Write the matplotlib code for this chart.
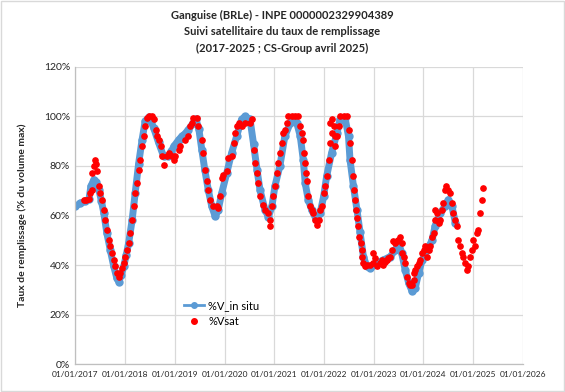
"""
Ganguise (BRLe) : taux de remplissage in situ vs satellite, 2017-2025.
"""
import numpy as np
import pandas as pd
import matplotlib
matplotlib.use("Agg")
import matplotlib.pyplot as plt
import matplotlib.dates as mdates
from matplotlib.ticker import PercentFormatter, MultipleLocator
from matplotlib.lines import Line2D
from matplotlib.patches import Rectangle

plt.rcParams["font.family"] = ["Lato", "DejaVu Sans"]

# --- in situ volume (% of max) (decimal years) ---
insitu_years = [
    2017.00, 2017.10, 2017.20, 2017.27, 2017.31, 2017.37, 2017.42, 2017.47, 2017.52, 2017.57,
    2017.63, 2017.70, 2017.77, 2017.83, 2017.87, 2017.92, 2017.97, 2018.02, 2018.07, 2018.14,
    2018.20, 2018.27, 2018.34, 2018.40, 2018.47, 2018.52, 2018.57, 2018.67, 2018.77, 2018.87,
    2018.93, 2018.98, 2019.08, 2019.14, 2019.20, 2019.27, 2019.37, 2019.42, 2019.48, 2019.54,
    2019.60, 2019.67, 2019.74, 2019.81, 2019.87, 2019.94, 2020.04, 2020.14, 2020.24, 2020.34,
    2020.41, 2020.51, 2020.58, 2020.65, 2020.71, 2020.81, 2020.88, 2020.95, 2021.01, 2021.11,
    2021.21, 2021.32, 2021.38, 2021.45, 2021.52, 2021.58, 2021.62, 2021.68, 2021.75, 2021.85,
    2021.92, 2021.99, 2022.05, 2022.15, 2022.26, 2022.32, 2022.42, 2022.49, 2022.52, 2022.59,
    2022.66, 2022.72, 2022.79, 2022.86, 2022.92, 2022.99, 2023.06, 2023.19, 2023.33, 2023.43,
    2023.50, 2023.56, 2023.63, 2023.70, 2023.77, 2023.83, 2023.90, 2023.97, 2024.07, 2024.17,
    2024.23, 2024.33, 2024.43, 2024.50, 2024.57, 2024.64,
]
insitu_pct = [
    63.7, 65.0, 65.7, 66.5, 71.8, 74.5, 73.5, 70.4, 66.0, 61.0,
    53.0, 46.0, 39.4, 34.8, 33.3, 36.0, 39.4, 44.0, 49.0, 58.3,
    69.0, 81.0, 90.7, 98.0, 99.6, 98.0, 95.5, 89.5, 84.0, 84.0,
    86.0, 88.0, 90.7, 92.0, 93.0, 94.7, 97.4, 99.0, 95.0, 86.6,
    78.5, 70.4, 63.7, 59.6, 62.3, 69.0, 77.0, 85.3, 92.0, 98.8,
    100.0, 98.8, 89.0, 78.5, 70.4, 62.3, 59.5, 63.7, 71.8, 80.0,
    92.0, 97.4, 98.8, 97.4, 92.0, 82.6, 73.0, 66.4, 62.3, 58.0,
    61.0, 67.7, 75.8, 85.3, 93.4, 98.8, 99.5, 92.0, 82.6, 71.8,
    62.3, 53.5, 43.4, 39.4, 38.7, 40.0, 40.8, 42.0, 43.4, 46.0,
    48.9, 44.8, 38.0, 32.7, 29.3, 30.6, 36.7, 42.0, 46.0, 50.0,
    55.6, 61.0, 63.7, 66.4, 63.7, 57.0,
]

# --- satellite estimate (% of max) ---
sat_years = [
    2017.17, 2017.21, 2017.27, 2017.30, 2017.33, 2017.34, 2017.37, 2017.40, 2017.41, 2017.43,
    2017.47, 2017.50, 2017.53, 2017.57, 2017.60, 2017.63, 2017.67, 2017.70, 2017.73, 2017.77,
    2017.80, 2017.83, 2017.87, 2017.90, 2017.94, 2017.97, 2018.00, 2018.04, 2018.07, 2018.10,
    2018.14, 2018.17, 2018.20, 2018.24, 2018.27, 2018.30, 2018.34, 2018.37, 2018.40, 2018.44,
    2018.48, 2018.54, 2018.57, 2018.61, 2018.64, 2018.67, 2018.71, 2018.74, 2018.77, 2018.84,
    2018.88, 2018.94, 2018.98, 2019.01, 2019.08, 2019.10, 2019.20, 2019.27, 2019.30, 2019.34,
    2019.37, 2019.44, 2019.47, 2019.54, 2019.57, 2019.61, 2019.64, 2019.67, 2019.71, 2019.77,
    2019.84, 2019.87, 2019.91, 2019.94, 2019.97, 2020.04, 2020.07, 2020.14, 2020.18, 2020.21,
    2020.24, 2020.28, 2020.34, 2020.41, 2020.51, 2020.55, 2020.58, 2020.61, 2020.65, 2020.68,
    2020.71, 2020.78, 2020.81, 2020.88, 2020.91, 2020.92, 2020.95, 2020.98, 2021.01, 2021.05,
    2021.08, 2021.11, 2021.15, 2021.18, 2021.21, 2021.25, 2021.28, 2021.35, 2021.42, 2021.48,
    2021.52, 2021.55, 2021.58, 2021.59, 2021.62, 2021.63, 2021.65, 2021.68, 2021.72, 2021.75,
    2021.78, 2021.82, 2021.85, 2021.89, 2021.92, 2021.95, 2021.99, 2022.02, 2022.05, 2022.09,
    2022.12, 2022.15, 2022.12, 2022.16, 2022.19, 2022.22, 2022.22, 2022.26, 2022.29, 2022.32,
    2022.39, 2022.46, 2022.49, 2022.52, 2022.56, 2022.59, 2022.60, 2022.62, 2022.64, 2022.67,
    2022.69, 2022.71, 2022.74, 2022.76, 2022.77, 2022.79, 2022.83, 2022.86, 2022.92, 2022.99,
    2022.99, 2023.02, 2023.06, 2023.12, 2023.16, 2023.19, 2023.22, 2023.26, 2023.29, 2023.33,
    2023.36, 2023.39, 2023.43, 2023.46, 2023.49, 2023.52, 2023.56, 2023.56, 2023.60, 2023.63,
    2023.66, 2023.70, 2023.73, 2023.76, 2023.80, 2023.80, 2023.83, 2023.87, 2023.90, 2023.93,
    2023.96, 2024.00, 2024.03, 2024.07, 2024.10, 2024.13, 2024.17, 2024.20, 2024.23, 2024.23,
    2024.27, 2024.30, 2024.33, 2024.37, 2024.40, 2024.43, 2024.46, 2024.50, 2024.53, 2024.57,
    2024.60, 2024.63, 2024.67, 2024.70, 2024.73, 2024.77, 2024.80, 2024.83, 2024.87, 2024.90,
    2024.93, 2024.97, 2025.00, 2025.04, 2025.07, 2025.10, 2025.14, 2025.17, 2025.19,
]
sat_pct = [
    66.4, 66.4, 66.7, 69.1, 70.4, 77.0, 79.9, 82.6, 81.0, 77.9,
    71.8, 69.1, 66.4, 62.3, 58.3, 54.3, 50.2, 47.5, 44.8, 42.1,
    39.4, 36.7, 35.3, 36.7, 38.7, 40.8, 43.4, 46.2, 48.9, 52.9,
    58.3, 63.7, 69.1, 73.1, 78.5, 82.6, 88.0, 92.0, 96.1, 99.5,
    100.0, 100.0, 98.8, 94.7, 92.0, 90.7, 88.0, 83.9, 80.6, 83.9,
    85.3, 83.9, 82.6, 83.9, 86.6, 88.0, 90.7, 92.0, 96.1, 97.4,
    99.5, 99.5, 96.1, 90.7, 85.3, 78.5, 73.8, 70.4, 66.4, 63.7,
    63.7, 63.0, 67.7, 75.2, 76.5, 77.9, 83.3, 83.9, 89.4, 93.4,
    96.1, 97.4, 96.1, 97.4, 97.4, 98.8, 86.6, 81.3, 77.2, 73.2,
    67.7, 64.4, 62.3, 61.0, 58.3, 55.6, 63.7, 67.7, 71.8, 77.2,
    81.3, 85.3, 89.4, 93.4, 94.7, 97.4, 100.0, 100.0, 100.0, 100.0,
    96.1, 93.4, 90.7, 85.3, 81.3, 77.2, 73.8, 67.7, 63.7, 62.3,
    61.0, 58.3, 56.3, 58.3, 62.3, 63.7, 69.1, 71.8, 75.8, 82.6,
    89.4, 93.4, 97.4, 98.8, 96.1, 92.0, 88.0, 92.0, 96.1, 100.0,
    100.0, 100.0, 94.7, 89.4, 82.6, 75.8, 70.4, 66.4, 62.3, 59.0,
    55.6, 51.5, 48.9, 46.2, 43.4, 40.8, 39.4, 40.1, 40.1, 40.8,
    44.8, 42.8, 39.4, 40.8, 42.1, 40.1, 41.4, 42.1, 42.8, 43.4,
    46.2, 49.5, 48.9, 49.5, 50.2, 51.5, 48.9, 44.8, 43.4, 40.8,
    35.3, 32.7, 32.0, 32.0, 34.0, 36.7, 38.1, 39.4, 40.8, 42.1,
    44.8, 46.2, 47.5, 43.4, 46.2, 47.5, 51.5, 52.9, 58.3, 62.3,
    61.0, 57.0, 58.3, 62.3, 65.0, 70.4, 71.8, 70.4, 69.1, 65.0,
    61.0, 58.3, 55.6, 50.2, 47.5, 44.8, 43.4, 40.8, 38.1, 39.4,
    43.4, 46.2, 50.2, 47.5, 52.9, 54.3, 61.0, 66.4, 71.1,
]

TITLE = ("Ganguise (BRLe) - INPE 0000002329904389\n"
         "Suivi satellitaire du taux de remplissage\n"
         "(2017-2025 ; CS-Group avril 2025)")


def to_dates(years):
    years = np.asarray(years)
    return pd.Timestamp("2017-01-01") + pd.to_timedelta((years - 2017) * 365.25, unit="D")


insitu_dates = to_dates(insitu_years)
sat_dates = to_dates(sat_years)

fig = plt.figure(figsize=(5.65, 3.92), dpi=100)
ax = fig.add_axes([0.1336, 0.0714, 0.7921, 0.7577])

ax.plot(insitu_dates, insitu_pct, color="#5b9bd5", lw=5, marker="o", ms=5,
        solid_capstyle="round", zorder=2)
ax.plot(sat_dates, sat_pct, ls="none", marker="o", ms=3.8, color="#ff0000",
        mec="#ff0000", zorder=3)

ax.set_xlim(pd.Timestamp("2017-01-01"), pd.Timestamp("2026-01-01"))
ax.set_ylim(0, 120)
ax.yaxis.set_major_locator(MultipleLocator(20))
ax.yaxis.set_major_formatter(PercentFormatter(100, decimals=0))
ax.xaxis.set_major_locator(mdates.YearLocator())
ax.xaxis.set_major_formatter(mdates.DateFormatter("%d/%m/%Y"))

ax.grid(True, color="#d9d9d9", lw=0.9)
ax.set_axisbelow(True)
for side in ["top", "right"]:
    ax.spines[side].set_visible(False)
for side in ["left", "bottom"]:
    ax.spines[side].set_color("#bfbfbf")
    ax.spines[side].set_linewidth(0.9)
ax.tick_params(axis="both", length=0, colors="#262626")
ax.tick_params(axis="y", labelsize=7.5, pad=4)
ax.tick_params(axis="x", labelsize=6, pad=5)

fig.text(0.5, 1 - 10 / 392, TITLE, ha="center", va="top", fontsize=8,
         fontweight="bold", color="#262626", linespacing=1.6)
fig.text(22 / 565, 1 - 215 / 392, "Taux de remplissage (% du volume max)",
         rotation=90, ha="center", va="center", fontsize=7.5,
         fontweight="bold", color="#262626")

handles = [
    Line2D([], [], color="#5b9bd5", lw=2, marker="o", ms=4),
    Line2D([], [], ls="none", marker="o", ms=4, color="#ff0000"),
]
ax.legend(handles, ["%V_in situ", "%Vsat"], loc="center left",
          bbox_to_anchor=(0.22, 0.17), frameon=False, fontsize=8,
          handlelength=1.8, handletextpad=0.4, labelspacing=0.5)

fig.add_artist(Rectangle((0.002, 0.002), 0.996, 0.996, transform=fig.transFigure,
                         fill=False, ec="#d9d9d9", lw=1))

fig.savefig("out.png", dpi=100)
